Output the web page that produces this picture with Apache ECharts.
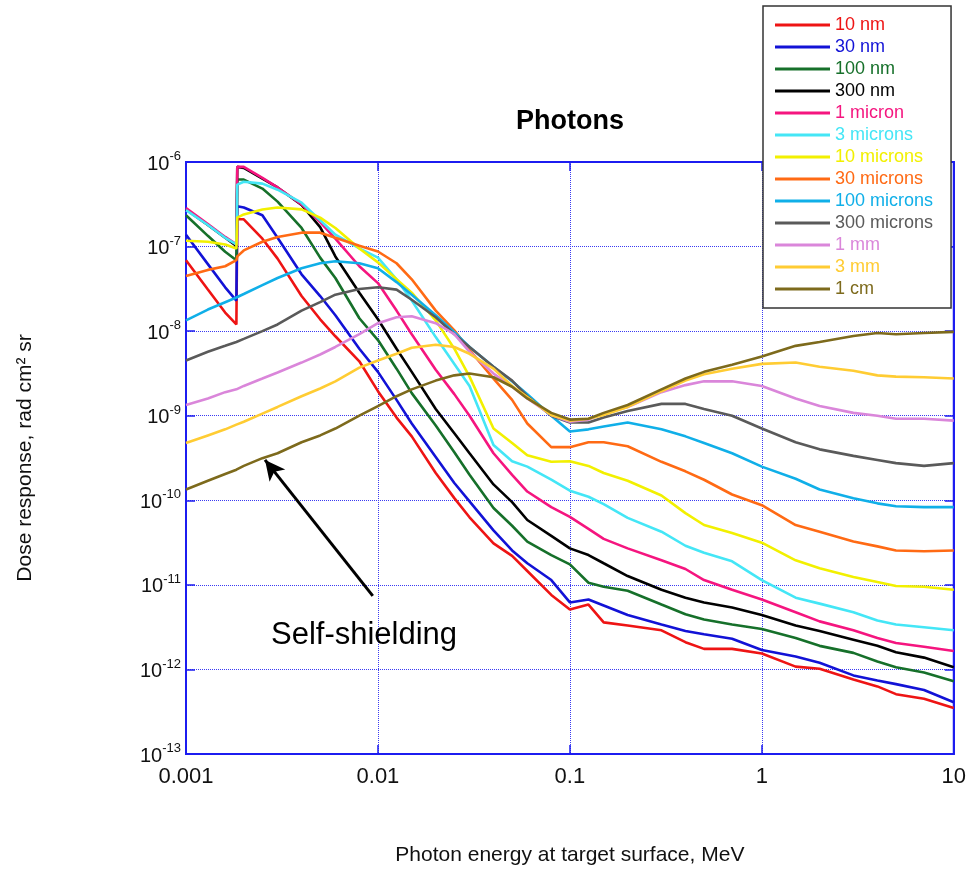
<!DOCTYPE html>
<html><head><meta charset="utf-8">
<script src="https://cdn.jsdelivr.net/npm/echarts@6/dist/echarts.min.js"></script>
<style>html,body{margin:0;padding:0;background:#fff}#c{width:969px;height:871px}</style>
</head><body><div id="c"></div>
<script>
// Photon energy at target surface (MeV)
const energies = [0.001, 0.0013, 0.0016, 0.00183, 0.00185, 0.002, 0.0025, 0.003, 0.004, 0.005, 0.006, 0.008, 0.01, 0.0125, 0.015, 0.02, 0.025, 0.03, 0.04, 0.05, 0.06, 0.08, 0.1, 0.125, 0.15, 0.2, 0.3, 0.4, 0.5, 0.7, 1, 1.5, 2, 3, 4, 5, 7, 10];

const seriesNames = ['10 nm', '30 nm', '100 nm', '300 nm', '1 micron', '3 microns', '10 microns', '30 microns', '100 microns', '300 microns', '1 mm', '3 mm', '1 cm'];
const seriesColors = ['#ee1414', '#1212d6', '#16702a', '#000000', '#f5157f', '#44e6f6', '#f2f000', '#ff6a14', '#10afe8', '#5a5a5a', '#da86da', '#ffcc33', '#7d6a1c'];

const d10nm = [6.9e-8, 3.1e-8, 1.66e-8, 1.2e-8, 2.1e-7, 2.1e-7, 1.24e-7, 7.2e-8, 2.6e-8, 1.38e-8, 8.7e-9, 4.4e-9, 1.95e-9, 9.5e-10, 5.7e-10, 2.1e-10, 1.06e-10, 6.3e-11, 3.1e-11, 2.2e-11, 1.46e-11, 7.6e-12, 5.1e-12, 5.85e-12, 3.6e-12, 3.3e-12, 2.9e-12, 2.1e-12, 1.75e-12, 1.75e-12, 1.54e-12, 1.08e-12, 1.02e-12, 7.6e-13, 6.3e-13, 5.1e-13, 4.5e-13, 3.5e-13];
const d30nm = [1.38e-7, 6.2e-8, 3.3e-8, 2.3e-8, 3.0e-7, 2.9e-7, 2.35e-7, 1.27e-7, 4.7e-8, 2.6e-8, 1.54e-8, 6.2e-9, 3.3e-9, 1.54e-9, 8.1e-10, 3.25e-10, 1.6e-10, 9.7e-11, 4.4e-11, 2.55e-11, 1.8e-11, 1.14e-11, 6.2e-12, 6.7e-12, 5.7e-12, 4.4e-12, 3.4e-12, 2.85e-12, 2.6e-12, 2.3e-12, 1.7e-12, 1.42e-12, 1.2e-12, 8.5e-13, 7.4e-13, 6.7e-13, 5.7e-13, 4.1e-13];
const d100nm = [2.35e-7, 1.34e-7, 8.7e-8, 6.9e-8, 6.2e-7, 6.2e-7, 4.85e-7, 3.4e-7, 1.66e-7, 7.4e-8, 4.25e-8, 1.42e-8, 7.85e-9, 3.6e-9, 1.85e-9, 7.65e-10, 3.7e-10, 2.0e-10, 8.1e-11, 5.0e-11, 3.25e-11, 2.25e-11, 1.75e-11, 1.06e-11, 9.5e-12, 8.5e-12, 5.85e-12, 4.5e-12, 3.9e-12, 3.4e-12, 3.0e-12, 2.35e-12, 1.9e-12, 1.57e-12, 1.24e-12, 1.06e-12, 9.2e-13, 7.25e-13];
const d300nm = [2.75e-7, 1.8e-7, 1.27e-7, 1.02e-7, 8.75e-7, 8.5e-7, 6.35e-7, 5.0e-7, 3.1e-7, 1.7e-7, 7.65e-8, 2.85e-8, 1.38e-8, 6.2e-9, 3.3e-9, 1.2e-9, 6.2e-10, 3.6e-10, 1.54e-10, 9.5e-11, 5.85e-11, 3.8e-11, 2.7e-11, 2.25e-11, 1.8e-11, 1.27e-11, 8.75e-12, 7.05e-12, 6.2e-12, 5.4e-12, 4.4e-12, 3.3e-12, 2.85e-12, 2.25e-12, 1.9e-12, 1.6e-12, 1.38e-12, 1.06e-12];
const d1um = [2.85e-7, 1.85e-7, 1.3e-7, 1.06e-7, 8.75e-7, 8.75e-7, 6.5e-7, 5.0e-7, 3.15e-7, 1.95e-7, 1.24e-7, 5.85e-8, 3.7e-8, 1.75e-8, 9.2e-9, 3.5e-9, 1.8e-9, 1.0e-9, 3.6e-10, 2.0e-10, 1.27e-10, 8.3e-11, 6.35e-11, 4.6e-11, 3.5e-11, 2.7e-11, 1.95e-11, 1.54e-11, 1.14e-11, 8.75e-12, 6.7e-12, 4.75e-12, 3.7e-12, 2.9e-12, 2.35e-12, 2.05e-12, 1.85e-12, 1.65e-12];
const d3um = [2.7e-7, 1.8e-7, 1.27e-7, 1.06e-7, 5.4e-7, 5.85e-7, 5.55e-7, 4.7e-7, 3.3e-7, 2.05e-7, 1.38e-7, 9.5e-8, 7.4e-8, 4.1e-8, 2.3e-8, 8.5e-9, 4.1e-9, 2.25e-9, 4.5e-10, 2.9e-10, 2.5e-10, 1.75e-10, 1.3e-10, 1.1e-10, 9.0e-11, 6.2e-11, 4.25e-11, 2.9e-11, 2.4e-11, 1.9e-11, 1.14e-11, 7.05e-12, 6.0e-12, 4.75e-12, 3.8e-12, 3.4e-12, 3.15e-12, 2.9e-12];
const d10um = [1.17e-7, 1.14e-7, 1.06e-7, 9.5e-8, 2.2e-7, 2.4e-7, 2.75e-7, 2.9e-7, 2.75e-7, 2.2e-7, 1.66e-7, 9.5e-8, 6.5e-8, 4.1e-8, 2.85e-8, 1.34e-8, 6.2e-9, 2.9e-9, 7.05e-10, 4.75e-10, 3.4e-10, 2.85e-10, 2.9e-10, 2.55e-10, 2.1e-10, 1.7e-10, 1.14e-10, 7.05e-11, 5.1e-11, 4.1e-11, 3.15e-11, 1.95e-11, 1.57e-11, 1.24e-11, 1.08e-11, 9.7e-12, 9.5e-12, 8.75e-12];
const d30um = [4.5e-8, 5.3e-8, 5.85e-8, 6.9e-8, 7.65e-8, 9.0e-8, 1.14e-7, 1.3e-7, 1.46e-7, 1.46e-7, 1.27e-7, 1.02e-7, 8.75e-8, 6.35e-8, 4.1e-8, 1.75e-8, 1.02e-8, 6.0e-9, 2.75e-9, 1.54e-9, 8.1e-10, 4.25e-10, 4.25e-10, 4.85e-10, 4.85e-10, 4.35e-10, 2.85e-10, 2.2e-10, 1.75e-10, 1.17e-10, 8.75e-11, 5.1e-11, 4.25e-11, 3.25e-11, 2.85e-11, 2.55e-11, 2.5e-11, 2.55e-11];
const d100um = [1.34e-8, 1.8e-8, 2.2e-8, 2.5e-8, 2.55e-8, 2.75e-8, 3.5e-8, 4.25e-8, 5.55e-8, 6.35e-8, 6.7e-8, 6.35e-8, 5.55e-8, 3.8e-8, 2.7e-8, 1.54e-8, 9.7e-9, 6.5e-9, 3.8e-9, 2.55e-9, 1.8e-9, 1.0e-9, 6.5e-10, 6.9e-10, 7.45e-10, 8.3e-10, 6.9e-10, 5.7e-10, 4.75e-10, 3.6e-10, 2.5e-10, 1.8e-10, 1.34e-10, 1.06e-10, 9.2e-11, 8.5e-11, 8.3e-11, 8.3e-11];
const d300um = [4.5e-9, 5.7e-9, 6.7e-9, 7.45e-9, 7.65e-9, 8.1e-9, 1.0e-8, 1.2e-8, 1.75e-8, 2.2e-8, 2.7e-8, 3.15e-8, 3.3e-8, 3.1e-8, 2.35e-8, 1.46e-8, 9.2e-9, 6.5e-9, 3.8e-9, 2.6e-9, 1.7e-9, 1.0e-9, 8.3e-10, 8.3e-10, 9.5e-10, 1.14e-9, 1.38e-9, 1.38e-9, 1.2e-9, 1.0e-9, 7.05e-10, 4.85e-10, 4.0e-10, 3.35e-10, 3.0e-10, 2.75e-10, 2.55e-10, 2.75e-10];
const d1mm = [1.34e-9, 1.6e-9, 1.9e-9, 2.05e-9, 2.05e-9, 2.25e-9, 2.75e-9, 3.25e-9, 4.25e-9, 5.3e-9, 6.5e-9, 9.2e-9, 1.24e-8, 1.46e-8, 1.5e-8, 1.24e-8, 9.2e-9, 5.7e-9, 3.15e-9, 2.2e-9, 1.6e-9, 1.02e-9, 8.5e-10, 9.0e-10, 1.06e-9, 1.27e-9, 1.9e-9, 2.3e-9, 2.55e-9, 2.55e-9, 2.25e-9, 1.6e-9, 1.3e-9, 1.08e-9, 1.0e-9, 9.2e-10, 9.2e-10, 8.75e-10];
const d3mm = [4.75e-10, 5.85e-10, 6.9e-10, 7.85e-10, 7.85e-10, 8.5e-10, 1.06e-9, 1.27e-9, 1.7e-9, 2.1e-9, 2.55e-9, 3.7e-9, 4.5e-9, 5.4e-9, 6.35e-9, 6.9e-9, 6.5e-9, 5.4e-9, 3.6e-9, 2.25e-9, 1.66e-9, 1.02e-9, 8.75e-10, 9.2e-10, 1.02e-9, 1.27e-9, 1.95e-9, 2.6e-9, 3.1e-9, 3.6e-9, 4.1e-9, 4.25e-9, 3.8e-9, 3.4e-9, 3.0e-9, 2.9e-9, 2.85e-9, 2.75e-9];
const d1cm = [1.34e-10, 1.7e-10, 2.05e-10, 2.3e-10, 2.35e-10, 2.55e-10, 3.15e-10, 3.6e-10, 4.85e-10, 5.85e-10, 7.05e-10, 1.0e-9, 1.3e-9, 1.7e-9, 2.05e-9, 2.6e-9, 3.0e-9, 3.15e-9, 2.85e-9, 2.2e-9, 1.6e-9, 1.08e-9, 9.0e-10, 9.2e-10, 1.08e-9, 1.34e-9, 2.05e-9, 2.75e-9, 3.3e-9, 4.0e-9, 5.0e-9, 6.7e-9, 7.45e-9, 8.75e-9, 9.5e-9, 9.2e-9, 9.5e-9, 9.8e-9];

const seriesValues = [d10nm, d30nm, d100nm, d300nm, d1um, d3um, d10um, d30um, d100um, d300um, d1mm, d3mm, d1cm];

const xTickLabels = ['0.001', '0.01', '0.1', '1', '10'];
const yTickExponents = ['-13', '-12', '-11', '-10', '-9', '-8', '-7', '-6'];

// annotation arrow (tail -> head) in data coordinates
const arrowTail = [0.0094, 7.4e-12];
const arrowHead = [0.00258, 3.0e-10];

const FONT = '"Liberation Sans", Arial, sans-serif';
const BLUE = '#1c1cf0';

const chart = echarts.init(document.getElementById('c'), null, {renderer: 'canvas'});

const series = seriesNames.map((name, k) => ({
  name: name,
  type: 'line',
  xAxisIndex: 0,
  yAxisIndex: 0,
  symbol: 'none',
  smooth: false,
  z: 3,
  lineStyle: {color: seriesColors[k], width: 2.6},
  itemStyle: {color: seriesColors[k]},
  data: energies.map((e, i) => [e, seriesValues[k][i]])
}));

series.push({
  name: 'annotation',
  type: 'line',
  data: [],
  silent: true,
  z: 5,
  markLine: {
    silent: true,
    animation: false,
    symbol: ['none', 'arrow'],
    symbolSize: [15, 20],
    label: {show: false},
    lineStyle: {color: '#000', width: 3, type: 'solid'},
    data: [[{coord: arrowTail}, {coord: arrowHead}]]
  }
});

const baseX = {
  type: 'log', logBase: 10, min: 0.001, max: 10
};
const baseY = {
  type: 'log', logBase: 10, min: 1e-13, max: 1e-6
};

const option = {
  animation: false,
  backgroundColor: '#ffffff',
  grid: {
    left: 186, right: 15, top: 162, bottom: 107,
    show: true, borderColor: BLUE, borderWidth: 2, backgroundColor: 'transparent'
  },
  legend: {
    orient: 'vertical',
    left: 763, top: 6,
    padding: [8, 18, 8, 12],
    icon: 'rect',
    itemWidth: 55, itemHeight: 3, itemGap: 0,
    backgroundColor: '#ffffff',
    borderColor: '#333333', borderWidth: 1.5,
    selectedMode: false,
    z: 10,
    textStyle: {fontSize: 18, lineHeight: 22, fontFamily: FONT},
    data: seriesNames.map((n, k) => ({name: n, itemStyle: {color: seriesColors[k]}, textStyle: {color: seriesColors[k]}}))
  },
  xAxis: [
    Object.assign({}, baseX, {
      position: 'bottom',
      name: 'Photon energy at target surface, MeV',
      nameLocation: 'middle', nameGap: 91,
      nameTextStyle: {fontSize: 21, color: '#111', fontFamily: FONT},
      axisLine: {show: true, lineStyle: {color: BLUE, width: 2}},
      axisTick: {show: true, inside: true, length: 9, lineStyle: {color: BLUE, width: 1.5}},
      minorTick: {show: false},
      axisLabel: {
        margin: 12, fontSize: 22, color: '#111', fontFamily: FONT,
        formatter: v => xTickLabels[Math.round(Math.log10(v)) + 3]
      },
      splitLine: {show: true, lineStyle: {color: '#3a3af2', width: 1, type: 'dotted'}}
    }),
    Object.assign({}, baseX, {
      position: 'top',
      axisLine: {show: true, lineStyle: {color: BLUE, width: 2}},
      axisTick: {show: true, inside: true, length: 9, lineStyle: {color: BLUE, width: 1.5}},
      axisLabel: {show: false},
      splitLine: {show: false}
    })
  ],
  yAxis: [
    Object.assign({}, baseY, {
      position: 'left',
      name: 'Dose response, rad cm² sr',
      nameLocation: 'middle', nameGap: 150, nameRotate: 90,
      nameTextStyle: {fontSize: 21, color: '#111', fontFamily: FONT},
      axisLine: {show: true, lineStyle: {color: BLUE, width: 2}},
      axisTick: {show: true, inside: true, length: 9, lineStyle: {color: BLUE, width: 1.5}},
      axisLabel: {
        margin: 5, color: '#111', fontFamily: FONT,
        formatter: v => '{b|10}{s|' + yTickExponents[Math.round(Math.log10(v)) + 13] + '}',
        rich: {
          b: {fontSize: 20, lineHeight: 24, verticalAlign: 'bottom', fontFamily: FONT, color: '#111'},
          s: {fontSize: 13, lineHeight: 24, verticalAlign: 'top', fontFamily: FONT, color: '#111'}
        }
      },
      splitLine: {show: true, lineStyle: {color: '#3a3af2', width: 1, type: 'dotted'}}
    }),
    Object.assign({}, baseY, {
      position: 'right',
      axisLine: {show: true, lineStyle: {color: BLUE, width: 2}},
      axisTick: {show: true, inside: true, length: 9, lineStyle: {color: BLUE, width: 1.5}},
      axisLabel: {show: false},
      splitLine: {show: false}
    })
  ],
  graphic: [
    {
      type: 'text', x: 570, y: 108, z: 20,
      style: {text: 'Photons', fill: '#000', font: 'bold 27px ' + FONT, textAlign: 'center'}
    },
    {
      type: 'text', x: 271, y: 620, z: 20,
      style: {text: 'Self-shielding', fill: '#000', font: '31px ' + FONT, textAlign: 'left'}
    }
  ],
  series: series
};

chart.setOption(option);
</script></body></html>
